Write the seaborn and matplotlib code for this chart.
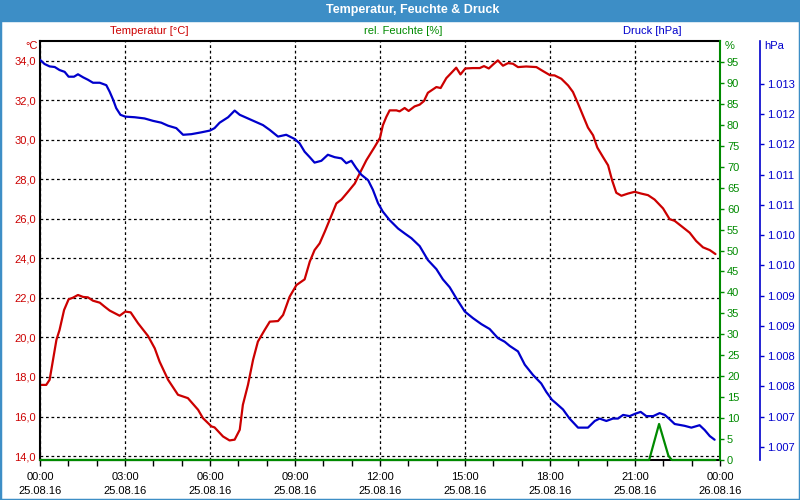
import pandas as pd
import seaborn as sns
import matplotlib.pyplot as plt
import matplotlib.dates as mdates
from matplotlib.patches import Rectangle
from matplotlib.ticker import FuncFormatter, MultipleLocator, FixedLocator

sns.set_style('white')
plt.rcParams['font.family'] = ['Liberation Sans', 'DejaVu Sans']

# hours after 25.08.16 00:00
temp_hours = [0.00, 0.22, 0.34, 0.46, 0.58, 0.69, 0.85, 1.01, 1.16, 1.34, 1.52, 1.69, 1.87, 2.11,
              2.28, 2.46, 2.81, 3.01, 3.20, 3.46, 3.81, 4.05, 4.22, 4.52, 4.87, 5.22, 5.58, 5.75,
              6.05, 6.16, 6.46, 6.69, 6.87, 7.05, 7.16, 7.34, 7.52, 7.69, 7.93, 8.11, 8.40, 8.58,
              8.81, 9.05, 9.34, 9.52, 9.69, 9.87, 10.05, 10.22, 10.46, 10.64, 10.87, 11.11, 11.28,
              11.52, 11.81, 12.00, 12.10, 12.22, 12.34, 12.58, 12.69, 12.87, 13.01, 13.22, 13.40,
              13.55, 13.69, 13.99, 14.14, 14.34, 14.52, 14.69, 14.84, 15.01, 15.28, 15.52, 15.67,
              15.84, 15.99, 16.16, 16.34, 16.52, 16.69, 16.87, 17.16, 17.52, 17.75, 18.00, 18.16,
              18.40, 18.64, 18.81, 18.99, 19.16, 19.34, 19.52, 19.67, 19.87, 20.05, 20.19, 20.34,
              20.52, 20.75, 20.99, 21.22, 21.46, 21.69, 21.99, 22.22, 22.40, 22.64, 22.93, 23.16,
              23.40, 23.64, 23.84]
temp_values = [17.60, 17.60, 17.86, 18.87, 19.88, 20.38, 21.39, 21.93, 22.01, 22.15, 22.05, 22.03,
               21.86, 21.76, 21.56, 21.36, 21.10, 21.31, 21.27, 20.72, 20.08, 19.45, 18.78, 17.86,
               17.10, 16.93, 16.34, 15.92, 15.50, 15.45, 14.99, 14.79, 14.83, 15.33, 16.59, 17.60,
               18.87, 19.79, 20.38, 20.80, 20.83, 21.14, 22.06, 22.65, 22.94, 23.83, 24.42, 24.76,
               25.35, 25.94, 26.78, 26.98, 27.37, 27.79, 28.29, 28.97, 29.64, 30.10, 30.73, 31.15,
               31.49, 31.49, 31.44, 31.61, 31.46, 31.69, 31.78, 31.96, 32.38, 32.67, 32.62, 33.12,
               33.39, 33.65, 33.31, 33.61, 33.63, 33.63, 33.73, 33.61, 33.81, 34.02, 33.75, 33.88,
               33.85, 33.68, 33.71, 33.68, 33.48, 33.27, 33.26, 33.09, 32.75, 32.42, 31.83, 31.24,
               30.62, 30.23, 29.61, 29.13, 28.71, 27.96, 27.32, 27.17, 27.28, 27.37, 27.28, 27.20,
               26.98, 26.53, 25.99, 25.90, 25.63, 25.30, 24.88, 24.56, 24.42, 24.22]

press_hours = [0.00, 0.16, 0.34, 0.52, 0.69, 0.87, 1.01, 1.20, 1.34, 1.52, 1.69, 1.87, 2.11, 2.34,
               2.46, 2.58, 2.69, 2.84, 3.01, 3.34, 3.69, 3.99, 4.28, 4.52, 4.81, 5.05, 5.34, 5.69,
               6.00, 6.16, 6.34, 6.64, 6.87, 7.05, 7.34, 7.58, 7.87, 8.11, 8.40, 8.69, 8.99, 9.16,
               9.34, 9.52, 9.69, 9.93, 10.16, 10.40, 10.64, 10.81, 10.99, 11.16, 11.34, 11.58,
               11.75, 11.93, 12.10, 12.34, 12.64, 12.87, 13.11, 13.40, 13.69, 13.99, 14.22, 14.46,
               14.69, 14.99, 15.28, 15.58, 15.87, 16.16, 16.40, 16.58, 16.87, 17.11, 17.40, 17.69,
               17.87, 18.07, 18.22, 18.46, 18.69, 18.99, 19.34, 19.58, 19.75, 19.99, 20.22, 20.40,
               20.58, 20.81, 21.01, 21.20, 21.40, 21.64, 21.87, 22.05, 22.22, 22.40, 22.75, 22.99,
               23.28, 23.46, 23.64, 23.81]
press_values = [1013.20, 1013.13, 1013.09, 1013.08, 1013.03, 1013.00, 1012.92, 1012.92, 1012.96,
                1012.91, 1012.87, 1012.82, 1012.82, 1012.78, 1012.67, 1012.54, 1012.40, 1012.29,
                1012.26, 1012.25, 1012.23, 1012.19, 1012.16, 1012.11, 1012.07, 1011.96, 1011.97,
                1012.00, 1012.03, 1012.07, 1012.16, 1012.25, 1012.36, 1012.29, 1012.23, 1012.18,
                1012.12, 1012.04, 1011.93, 1011.96, 1011.89, 1011.82, 1011.68, 1011.59, 1011.50,
                1011.53, 1011.63, 1011.59, 1011.57, 1011.49, 1011.53, 1011.41, 1011.30, 1011.21,
                1011.05, 1010.83, 1010.69, 1010.55, 1010.41, 1010.33, 1010.25, 1010.12, 1009.89,
                1009.74, 1009.57, 1009.44, 1009.26, 1009.04, 1008.93, 1008.83, 1008.75, 1008.60,
                1008.54, 1008.47, 1008.38, 1008.16, 1007.99, 1007.85, 1007.71, 1007.58, 1007.52,
                1007.42, 1007.27, 1007.12, 1007.12, 1007.23, 1007.27, 1007.23, 1007.27, 1007.27,
                1007.33, 1007.31, 1007.35, 1007.38, 1007.31, 1007.31, 1007.36, 1007.33, 1007.26,
                1007.18, 1007.15, 1007.12, 1007.16, 1007.08, 1006.98, 1006.92]

hum_hours = [0.00, 21.50, 21.85, 22.18, 22.30, 23.84]
hum_values = [0.0, 0.0, 8.6, 1.0, 0.0, 0.0]

press_ticks = [1006.8 + 0.5 * k for k in range(13)]

RED = '#CC0000'
GREEN = '#008A00'
BLUE = '#0000CC'

start = pd.Timestamp('2016-08-25 00:00')
temp_time = start + pd.to_timedelta(temp_hours, unit='h')
press_time = start + pd.to_timedelta(press_hours, unit='h')
hum_time = start + pd.to_timedelta(hum_hours, unit='h')

fig = plt.figure(figsize=(8, 5), dpi=100)
ax = fig.add_axes([40 / 800, 40 / 500, 680 / 800, 419 / 500])
ax2 = ax.twinx()
ax3 = ax.twinx()

# title bar and frame
fig.patches.append(Rectangle((0, 479 / 500), 1, 21 / 500, transform=fig.transFigure,
                             color='#3D8EC6', zorder=0))
fig.patches.append(Rectangle((0, 0), 1, 1, transform=fig.transFigure, fill=False,
                             edgecolor='#3D8EC6', linewidth=2.5, zorder=0))
fig.text(413 / 800, 1 - 10 / 500, 'Temperatur, Feuchte & Druck', color='white',
         fontsize=9, weight='bold', ha='center', va='center')

sns.lineplot(x=temp_time, y=temp_values, ax=ax, color=RED, linewidth=1.6)
sns.lineplot(x=hum_time, y=hum_values, ax=ax2, color=GREEN, linewidth=1.6, clip_on=False)
sns.lineplot(x=press_time, y=press_values, ax=ax3, color=BLUE, linewidth=1.6)

# x axis
ax.set_xlim(start, start + pd.Timedelta(hours=24))
ax.xaxis.set_major_locator(mdates.HourLocator(byhour=range(0, 24, 3)))
ax.xaxis.set_minor_locator(mdates.HourLocator())
ax.xaxis.set_major_formatter(mdates.DateFormatter('%H:%M\n%d.%m.%y'))
ax.tick_params(axis='x', which='both', bottom=True, direction='out', length=4, width=1,
               colors='black', labelsize=8, pad=5)
for lab in ax.get_xticklabels():
    lab.set_linespacing(1.5)

# temperature axis
ax.set_ylim(13.8, 35.0)
ax.yaxis.set_major_locator(MultipleLocator(2))
ax.yaxis.set_major_formatter(FuncFormatter(lambda v, p: f'{v:.1f}'.replace('.', ',')))
ax.tick_params(axis='y', left=True, length=0, labelcolor=RED, labelsize=8, pad=3)
ax.grid(True, which='major', color='black', linestyle=(0, (2.2, 2.2)), linewidth=0.9)
ax.set_xlabel('')
ax.set_ylabel('')
for s in ['top', 'left', 'bottom']:
    ax.spines[s].set_color('black')
    ax.spines[s].set_linewidth(1.5)
ax.spines['right'].set_visible(False)

# humidity axis
ax2.set_ylim(0, 100)
ax2.yaxis.set_major_locator(FixedLocator(list(range(0, 100, 5))))
ax2.tick_params(axis='y', right=True, left=False, direction='out', length=3, width=1,
                colors=GREEN, labelsize=8, pad=2)
ax2.set_ylabel('')
for s in ['top', 'left', 'bottom']:
    ax2.spines[s].set_visible(False)
ax2.spines['right'].set_color(GREEN)
ax2.spines['right'].set_linewidth(1.5)

# pressure axis
ax3.spines['right'].set_position(('axes', 720 / 680))
ax3.set_ylim(1006.585, 1013.51)
ax3.yaxis.set_major_locator(FixedLocator(press_ticks))
ax3.yaxis.set_major_formatter(FuncFormatter(lambda v, p: f'{round(v):,}'.replace(',', '.')))
ax3.tick_params(axis='y', right=True, left=False, direction='out', length=3, width=1,
                colors=BLUE, labelsize=8, pad=2)
ax3.set_ylabel('')
for s in ['top', 'left', 'bottom']:
    ax3.spines[s].set_visible(False)
ax3.spines['right'].set_color(BLUE)
ax3.spines['right'].set_linewidth(1.2)

# series labels and units
fig.text(149 / 800, 1 - 31 / 500, 'Temperatur [°C]', color=RED, fontsize=8, ha='center', va='center')
fig.text(403 / 800, 1 - 31 / 500, 'rel. Feuchte [%]', color=GREEN, fontsize=8, ha='center', va='center')
fig.text(652 / 800, 1 - 31 / 500, 'Druck [hPa]', color=BLUE, fontsize=8, ha='center', va='center')
fig.text(38 / 800, 1 - 46 / 500, '°C', color=RED, fontsize=8, ha='right', va='center')
fig.text(725 / 800, 1 - 46 / 500, '%', color=GREEN, fontsize=8, ha='left', va='center')
fig.text(764 / 800, 1 - 46 / 500, 'hPa', color=BLUE, fontsize=8, ha='left', va='center')

fig.savefig('out.png', dpi=100)
